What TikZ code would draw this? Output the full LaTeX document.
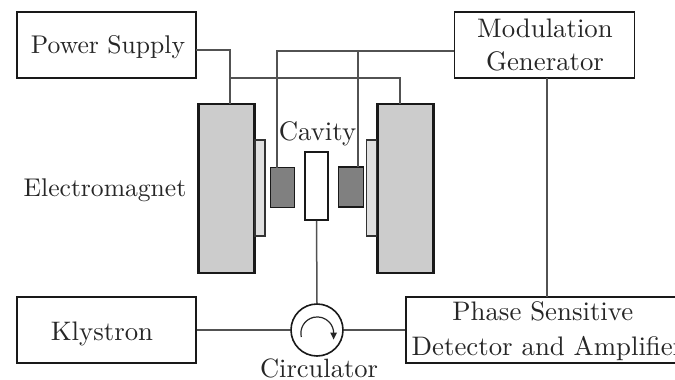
\documentclass[tikz,border=0pt]{standalone}
\usetikzlibrary{arrows.meta}
\definecolor{wirecol}{gray}{0.32}
\definecolor{yokecol}{gray}{0.8}
\definecolor{polecol}{gray}{0.88}
\definecolor{coilcol}{gray}{0.5}
\tikzset{
  box/.style={draw=black!90,line width=1.8pt,inner sep=0pt,minimum width=#1},
  boxh/.style={minimum height=#1},
  wire/.style={draw=wirecol,line width=1.5pt},
  label/.style={scale=#1,inner sep=0pt,text=black!85,align=center},
  label/.default=2.68,
}
\begin{document}
\begin{tikzpicture}[x=1pt,y=-1pt]
\useasboundingbox (0,0) rectangle (675,380);
\clip (0,0) rectangle (675,380);
% boxes
\node[box=179pt,boxh=66pt] (ps) at (106.5,45) {};
\node[box=180pt,boxh=66pt] (mg) at (544.5,45) {};
\node[box=179pt,boxh=66pt] (kl) at (106.5,330) {};
\node[box=284pt,boxh=66pt] (pd) at (548,330) {};
% electromagnet
\node[box=56pt,boxh=169pt,fill=yokecol,line width=2.2pt] (yl) at (226.5,188.5) {};
\node[box=56pt,boxh=169pt,fill=yokecol,line width=2.2pt] (yr) at (405.5,188.5) {};
\node[box=10pt,boxh=96pt,fill=polecol,line width=1.2pt,draw=black!80] (pl) at (260,188) {};
\node[box=10pt,boxh=96pt,fill=polecol,line width=1.2pt,draw=black!80] (pr) at (371.5,188) {};
\node[box=24.5pt,boxh=40pt,fill=coilcol,line width=1.3pt] (cl) at (282.5,187.5) {};
\node[box=24.5pt,boxh=40pt,fill=coilcol,line width=1.3pt] (cr) at (351,187) {};
\node[box=23pt,boxh=68pt,fill=white] (cav) at (316.5,186) {};
\node[circle,draw=black!90,line width=1.6pt,minimum size=52pt,inner sep=0pt] (circ) at (317,330) {};
% bend coordinates
\coordinate (ppo) at (196,50);
\coordinate (pj) at (230,78);
\coordinate (ylt) at (230,104);
\coordinate (yrt) at (400,104);
\coordinate (mo) at (454,51);
\coordinate (mj) at (358,51);
\coordinate (clt) at (277,168);
\coordinate (crt) at (358,167);
\coordinate (mb) at (547,78);
\coordinate (pdt) at (547,297);
% connectors
\draw[wire] (ppo) -| (ylt);
\draw[wire] (pj) -| (yrt);
\draw[wire] (mo) -| (clt);
\draw[wire,line width=1.2pt] (mj) -- (crt);
\draw[wire] (cav.south) -- (circ.north);
\draw[wire] (kl.east) -- (circ.west);
\draw[wire] (circ.east) -- (pd.west);
\draw[wire] (mb) -- (pdt);
% circulator arrow
\draw[black!85,line width=1.2pt] (301.3,337) arc[start angle=167,end angle=360,radius=16.4];
\fill[black!85] (330.2,332.5) -- (337,332.5) -- (333.6,339.5) -- cycle;
% labels
\node[label=2.56,anchor=base] (lps) at (108,53) {Power Supply};
\node[label] (lmg) at (545,45) {Modulation\\Generator};
\node[label,anchor=base] (lkl) at (102,340) {Klystron};
\node[label] (lpd) at (547.5,331) {Phase Sensitive\kern3.5pt\\[1pt]Detector and Amplifier};
\node[label=2.56,anchor=base] (lem) at (105,196) {Electromagnet};
\node[label,anchor=base] (lcv) at (317.5,140) {Cavity};
\node[label=2.65,anchor=base] (lcc) at (319,377) {Circulator};
\end{tikzpicture}
\end{document}
